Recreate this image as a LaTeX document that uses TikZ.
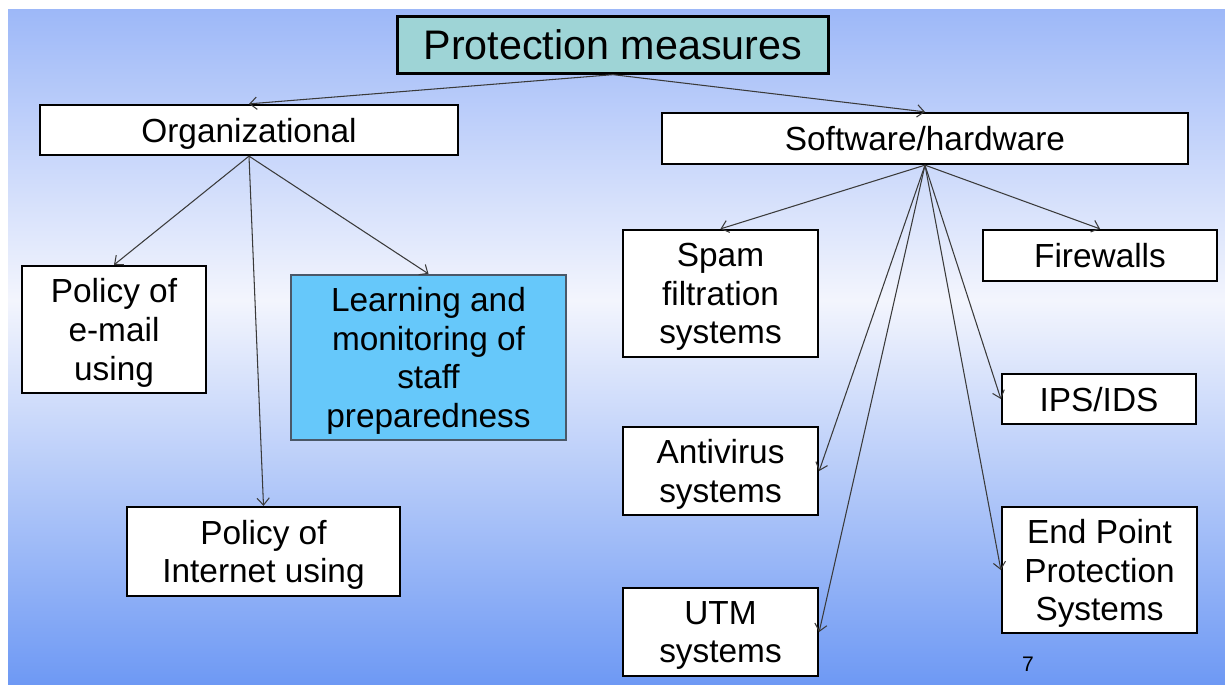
\documentclass[tikz,border=0pt]{standalone}
\usepackage{fontspec}
\setmainfont{Liberation Sans}
\usetikzlibrary{arrows.meta}

\definecolor{bgtop}{HTML}{9DB8F8}
\definecolor{bgmid}{HTML}{F3F5FD}
\definecolor{bgbot}{HTML}{6E99F4}
\definecolor{headfill}{HTML}{9ED4D6}
\definecolor{learnfill}{HTML}{66C8FA}
\definecolor{learnline}{HTML}{4A5868}
\definecolor{linkgray}{HTML}{3A3A3A}

\begin{document}
\begin{tikzpicture}
        [x=0.02cm, y=-0.02cm, >={Straight Barb[length=4pt,width=7pt]},
         box/.style={shape=rectangle, draw=black, line width=1.3pt, fill=white,
                     align=center, inner sep=0pt, text depth=-3pt,
                     font=\fontsize{19}{22}\selectfont},
         link/.style={color=linkgray, line width=0.6pt}]
        \useasboundingbox (0,0) rectangle (1225,684);
        % background
        \fill[top color=bgtop, bottom color=bgmid] (8,9) rectangle (1225,300);
        \fill[top color=bgmid, bottom color=bgbot] (8,300) rectangle (1225,684);

        \node[box,fill=headfill,minimum width=8.62cm,minimum height=1.14cm,
              font=\fontsize{23.5}{27}\selectfont, text depth=-1pt] (head) at (613,45) {Protection measures};
        \node[box,minimum width=8.36cm,minimum height=1.0cm] (org) at (249,130) {Organizational};
        \node[box,minimum width=10.52cm,minimum height=1.02cm] (sw) at (925,138.5) {Software/hardware};

        \node[box,minimum width=3.68cm,minimum height=2.54cm] (email) at (114,329.5) {Policy of\\e-mail\\using};
        \node[box,fill=learnfill,draw=learnline,minimum width=5.5cm,minimum height=3.3cm] (learn) at (428.5,357.5)
            {Learning and\\monitoring of\\staff\\preparedness};
        \node[box,minimum width=5.46cm,minimum height=1.78cm] (inet) at (263.5,551.5) {Policy of\\Internet using};

        \node[box,minimum width=3.9cm,minimum height=2.54cm] (spam) at (720.5,293.5) {Spam\\filtration\\systems};
        \node[box,minimum width=3.9cm,minimum height=1.76cm] (anti) at (720.5,471) {Antivirus\\systems};
        \node[box,minimum width=3.9cm,minimum height=1.76cm] (utm) at (720.5,632) {UTM\\systems};
        \node[box,minimum width=4.68cm,minimum height=1.02cm] (fire) at (1100,255.5) {Firewalls};
        \node[box,minimum width=3.88cm,minimum height=1.0cm] (ips) at (1099,399) {IPS/IDS};
        \node[box,minimum width=3.9cm,minimum height=2.52cm] (endp) at (1099.5,570) {End Point\\Protection\\Systems};

        \node[font=\fontsize{12}{14}\selectfont] (page) at (1028,664) {7};

        \path [->] (head.south) edge [link] (org.north);
        \path [->] (head.south) edge [link] (sw.north);

        \path [->] (org.south) edge [link] (email.north);
        \path [->] (org.south) edge [link] (inet.north);
        \path [->] (org.south) edge [link] (learn.north);

        \path [->] (sw.south) edge [link] (spam.north);
        \path [->] (sw.south) edge [link] (fire.north);
        \path [->] (sw.south) edge [link] (anti.east);
        \path [->] (sw.south) edge [link] (utm.east);
        \path [->] (sw.south) edge [link] (ips.west);
        \path [->] (sw.south) edge [link] (endp.west);
    \end{tikzpicture}
\end{document}
